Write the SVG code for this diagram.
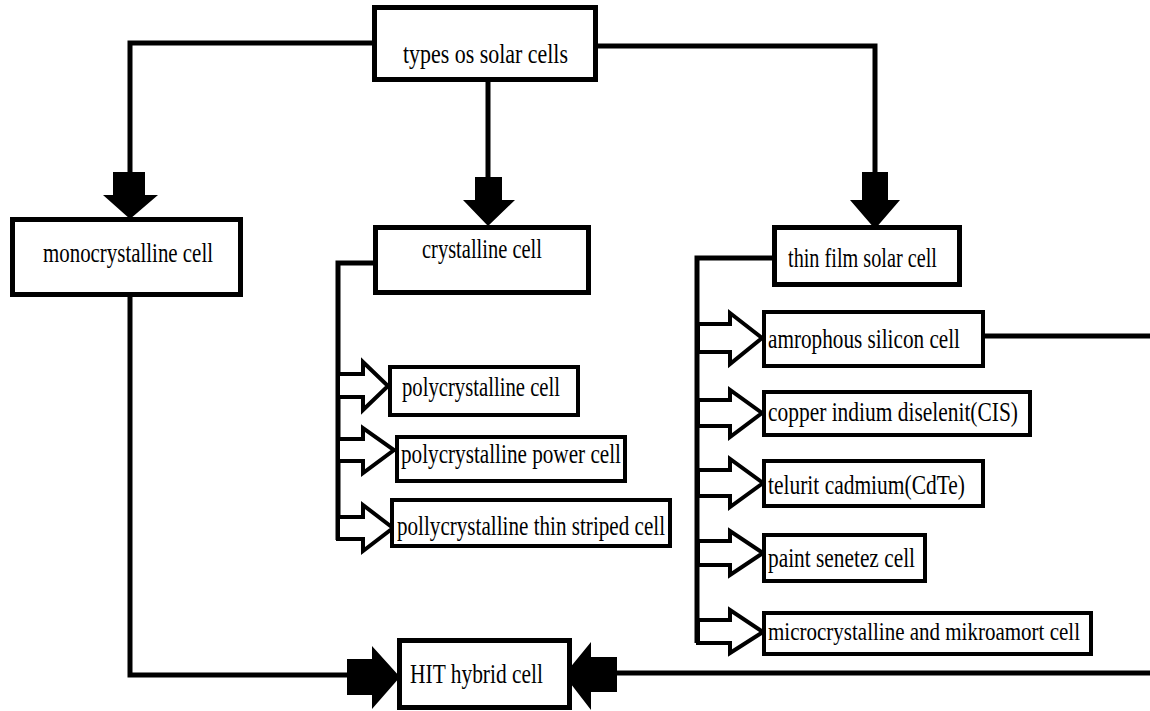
<svg xmlns="http://www.w3.org/2000/svg" width="1150" height="711" viewBox="0 0 1150 711">
<style>
.box{fill:#fff;stroke:#000;stroke-width:5}
.sbox{fill:#fff;stroke:#000;stroke-width:4}
.ln{fill:none;stroke:#000;stroke-width:5}
.fa{fill:#000;stroke:none}
.oa{fill:#fff;stroke:#000;stroke-width:4;stroke-linejoin:miter}
text{font-family:"Liberation Serif","Times New Roman",serif;font-size:28px;fill:#000}
.sm{font-size:25px}
</style>
<rect width="1150" height="711" fill="#fff"/>
<g id="connectors">
<polyline class="ln" points="374,43 130,43 130,174"/>
<polygon class="fa" points="113,172 145,172 145,195 158,195 130,219 103,195 113,195"/>
<polyline class="ln" points="488,80 488,179"/>
<polygon class="fa" points="475,177 502,177 502,200 515,200 488,226 463,200 475,200"/>
<polyline class="ln" points="597,46 875,46 875,174"/>
<polygon class="fa" points="862,172 888,172 888,200 900,200 875,229 850,200 862,200"/>
<polyline class="ln" points="373,263 338,263 338,540"/>
<polygon class="oa" points="338,374 363,374 363,362 388,386 363,410 363,397 338,397"/>
<polygon class="oa" points="338,439 363,439 363,428 394,450 363,473 363,461 338,461"/>
<polygon class="oa" points="338,517 363,517 363,505 393,528 363,551 363,539 338,539"/>
<polyline class="ln" points="772,258 697,258 697,643"/>
<polygon class="oa" points="698,324 730,324 730,313 762,338 730,364 730,352 698,352"/>
<polygon class="oa" points="698,400 730,400 730,390 762,413 730,437 730,426 698,426"/>
<polygon class="oa" points="698,470 730,470 730,459 763,483 730,507 730,496 698,496"/>
<polygon class="oa" points="698,541 730,541 730,531 763,553 730,575 730,565 698,565"/>
<polygon class="oa" points="698,620 730,620 730,610 763,632 730,653 730,643 698,643"/>
<line class="ln" x1="985" y1="336" x2="1150" y2="336"/>
<polyline class="ln" points="130,297 130,675 349,675"/>
<polygon class="fa" points="347,659 372,659 372,646 400,677 372,709 372,695 347,695"/>
<line class="ln" x1="615" y1="673" x2="1150" y2="673"/>
<polygon class="fa" points="617,657 591,657 591,642 564,675 591,710 591,692 617,692"/>
</g>
<g id="types">
<rect class="box" x="374.5" y="7.5" width="221" height="72"/>
<text x="403" y="63" textLength="165" lengthAdjust="spacingAndGlyphs">types os solar cells</text>
</g>
<g id="mono">
<rect class="box" x="12.5" y="219.5" width="228" height="75"/>
<text x="43" y="262" textLength="170" lengthAdjust="spacingAndGlyphs">monocrystalline cell</text>
</g>
<g id="crystalline">
<rect class="box" x="375.5" y="227.5" width="213" height="65"/>
<text x="422" y="258" textLength="120" lengthAdjust="spacingAndGlyphs">crystalline cell</text>
</g>
<g id="thinfilm">
<rect class="box" x="774.5" y="227.5" width="185" height="57"/>
<text x="788" y="267" textLength="149" lengthAdjust="spacingAndGlyphs">thin film solar cell</text>
</g>
<g id="poly1">
<rect class="sbox" x="390" y="367" width="188" height="48"/>
<text x="402" y="396" textLength="158" lengthAdjust="spacingAndGlyphs">polycrystalline cell</text>
</g>
<g id="poly2">
<rect class="sbox" x="397" y="437" width="228" height="44"/>
<text x="401" y="463" textLength="220" lengthAdjust="spacingAndGlyphs">polycrystalline power cell</text>
</g>
<g id="poly3">
<rect class="sbox" x="392" y="500" width="278" height="46"/>
<text x="397" y="535" textLength="268" lengthAdjust="spacingAndGlyphs">pollycrystalline thin striped cell</text>
</g>
<g id="amorph">
<rect class="sbox" x="764" y="312" width="219" height="54"/>
<text x="768" y="348" textLength="192" lengthAdjust="spacingAndGlyphs">amrophous silicon cell</text>
</g>
<g id="cis">
<rect class="sbox" x="764" y="392" width="266" height="43"/>
<text x="768" y="421" textLength="250" lengthAdjust="spacingAndGlyphs">copper indium diselenit(CIS)</text>
</g>
<g id="cdte">
<rect class="sbox" x="764" y="461" width="219" height="45"/>
<text x="768" y="494" textLength="197" lengthAdjust="spacingAndGlyphs">telurit cadmium(CdTe)</text>
</g>
<g id="paint">
<rect class="sbox" x="764" y="535" width="161" height="46"/>
<text x="768" y="567" textLength="147" lengthAdjust="spacingAndGlyphs">paint senetez cell</text>
</g>
<g id="micro">
<rect class="sbox" x="764" y="613" width="327" height="41"/>
<text class="sm" x="768" y="640" textLength="312" lengthAdjust="spacingAndGlyphs">microcrystalline and mikroamort cell</text>
</g>
<g id="hit">
<rect class="box" x="399.5" y="640.5" width="170" height="67"/>
<text x="410" y="683" textLength="133" lengthAdjust="spacingAndGlyphs">HIT hybrid cell</text>
</g>
</svg>
